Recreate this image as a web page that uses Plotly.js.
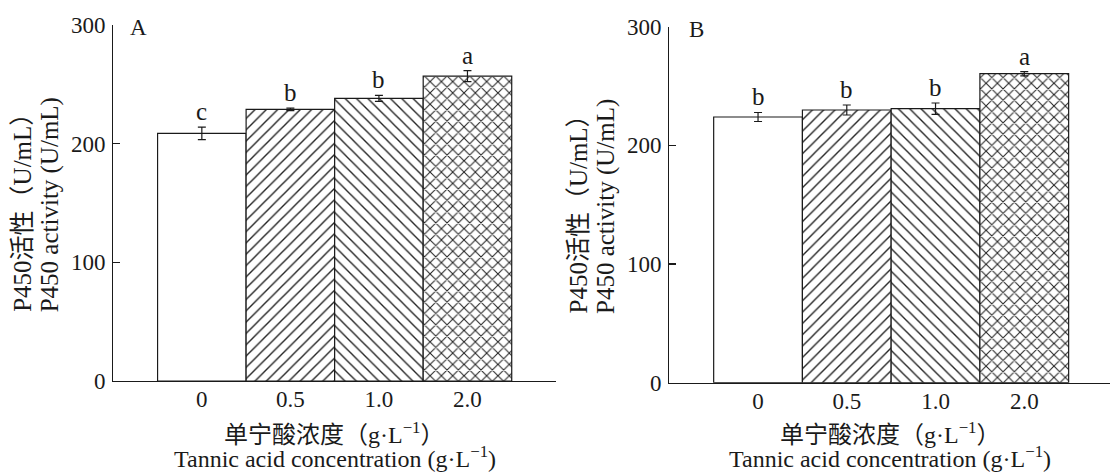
<!DOCTYPE html>
<html>
<head>
<meta charset="utf-8">
<script src="https://cdn.plot.ly/plotly-3.0.1.min.js"></script>
<style>html,body{margin:0;padding:0;background:#fff;}#chart{width:1110px;height:473px;}</style>
</head>
<body>
<div id="chart"></div>
<script>
// ---- data ----
const categories = ['0', '0.5', '1.0', '2.0'];
const valuesA = [208.7, 228.9, 238.2, 256.9];
const errorsA = [5.3, 1.0, 2.5, 4.6];
const lettersA = ['c', 'b', 'b', 'a'];
const valuesB = [223.9, 229.8, 230.9, 260.4];
const errorsB = [3.8, 4.2, 4.8, 1.8];
const lettersB = ['b', 'b', 'b', 'a'];
const yTicks = [0, 100, 200, 300];
const panelLabels = ['A', 'B'];
const yTitleCN = 'P450活性（U/mL）';
const yTitleEN = 'P450 activity (U/mL)';
const xTitleCN = '单宁酸浓度（g·L<sup>−1</sup>）';
const xTitleEN = 'Tannic acid concentration (g·L<sup>−1</sup>)';
// ---- style ----
const patternShapes = ['', '/', '\\', 'x'];
const patternSolidity = [0.17, 0.17, 0.17, 0.24];
const FONT = 'Liberation Serif, Times New Roman, Noto Sans CJK SC, serif';
const INK = '#1a1a1a';

function barTrace(vals, errs, xa, ya) {
  return {
    type: 'bar', x: categories, y: vals, xaxis: xa, yaxis: ya, width: 1,
    marker: {
      color: 'white',
      line: {color: INK, width: 1.2},
      pattern: {shape: patternShapes, fgcolor: '#222', bgcolor: 'white', size: 8, solidity: patternSolidity}
    },
    error_y: {type: 'data', array: errs, visible: true, color: INK, thickness: 1.2, width: 4},
    hoverinfo: 'skip', showlegend: false
  };
}

const data = [barTrace(valuesA, errorsA, 'x', 'y'), barTrace(valuesB, errorsB, 'x2', 'y2')];

function yAxis(domain, anchor) {
  return {
    domain: domain, anchor: anchor, range: [0, 300], tickvals: yTicks,
    ticks: 'inside', ticklen: 7, tickwidth: 1.2, tickcolor: INK,
    showline: true, linecolor: INK, linewidth: 1.3, showgrid: false, zeroline: false,
    tickfont: {family: FONT, size: 23, color: INK}, ticklabelstandoff: 2, fixedrange: true
  };
}
function xAxis(domain, anchor, range) {
  return {
    domain: domain, anchor: anchor, type: 'category', range: range,
    ticks: '', showline: true, linecolor: INK, linewidth: 1.3, showgrid: false, zeroline: false,
    tickfont: {family: FONT, size: 23, color: INK}, ticklabelstandoff: -3, fixedrange: true
  };
}

const W = 1110, T = 25, B = 90, PH = 473 - T - B;
function py(pix) { return (473 - B - pix) / PH; } // pixel row -> paper y

const annotations = [];
function letters(vals, errs, labs, xr, yr) {
  categories.forEach((c, i) => {
    annotations.push({xref: xr, yref: yr, x: i, y: vals[i] + errs[i], text: labs[i],
      showarrow: false, yanchor: 'bottom', xanchor: 'center', yshift: 0,
      font: {family: FONT, size: 25, color: INK}});
  });
}
letters(valuesA, errorsA, lettersA, 'x', 'y');
letters(valuesB, errorsB, lettersB, 'x2', 'y2');

const panels = [
  {axisPx: 113.3, centerPx: 334.5, labelPx: 138, dy: 0},
  {axisPx: 669.3, centerPx: 890, labelPx: 696, dy: 1.7}
];
panels.forEach((p, k) => {
  annotations.push({xref: 'paper', yref: 'paper', x: p.labelPx / W, y: py(28 + p.dy), text: panelLabels[k],
    showarrow: false, xanchor: 'center', yanchor: 'middle', font: {family: FONT, size: 23, color: INK}});
  annotations.push({xref: 'paper', yref: 'paper', x: (p.axisPx - 91) / W, y: py(314 + p.dy), text: yTitleCN,
    textangle: -90, showarrow: false, xanchor: 'center', yanchor: 'bottom', font: {family: FONT, size: 25, color: INK}});
  annotations.push({xref: 'paper', yref: 'paper', x: (p.axisPx - 63.5) / W, y: py(314 + p.dy), text: yTitleEN,
    textangle: -90, showarrow: false, xanchor: 'center', yanchor: 'bottom', font: {family: FONT, size: 25, color: INK}});
  annotations.push({xref: 'paper', yref: 'paper', x: p.centerPx / W, y: py(433), text: xTitleCN,
    showarrow: false, xanchor: 'center', yanchor: 'middle', font: {family: FONT, size: 24, color: INK}});
  annotations.push({xref: 'paper', yref: 'paper', x: p.centerPx / W, y: py(457), text: xTitleEN,
    showarrow: false, xanchor: 'center', yanchor: 'middle', font: {family: FONT, size: 24, color: INK}});
});

const layout = {
  width: W, height: 473, margin: {l: 0, r: 0, t: T, b: B},
  paper_bgcolor: 'white', plot_bgcolor: 'white', bargap: 0,
  xaxis: xAxis([113.3 / W, 556 / W], 'y', [-1, 4]),
  yaxis: yAxis([2 / PH, 1], 'x'),
  xaxis2: xAxis([669.3 / W, 1], 'y2', [-1, 3.966]),
  yaxis2: yAxis([0.3 / PH, 1 - 1.7 / PH], 'x2'),
  annotations: annotations
};

Plotly.newPlot('chart', data, layout, {displayModeBar: false, staticPlot: true});
</script>
</body>
</html>
